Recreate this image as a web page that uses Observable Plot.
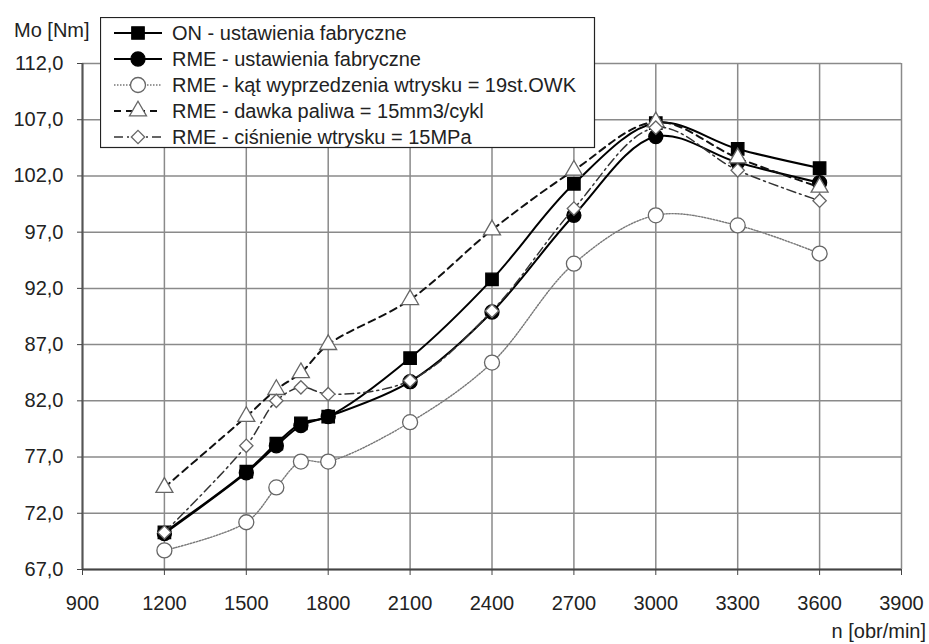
<!DOCTYPE html>
<html>
<head>
<meta charset="utf-8">
<script src="https://cdn.jsdelivr.net/npm/d3@7"></script>
<script src="https://cdn.jsdelivr.net/npm/@observablehq/plot@0.6"></script>
<style>
  html, body { margin: 0; padding: 0; background: #fff; }
  #wrap { position: relative; width: 929px; height: 644px; font-family: "Liberation Sans", Arial, sans-serif; color: #222; }
  #wrap > svg { position: absolute; left: 0; top: 0; }
  .lbl { position: absolute; font-size: 20px; line-height: 20px; white-space: nowrap; color: #222; }
</style>
</head>
<body>
<div id="wrap"></div>
<script>
// ---- data ----
const rpm = [1200, 1500, 1610, 1700, 1800, 2100, 2400, 2700, 3000, 3300, 3600];
const onFactory   = [70.3, 75.7, 78.2, 80.0, 80.6, 85.8, 92.8, 101.3, 106.7, 104.4, 102.7];
const rmeFactory  = [70.2, 75.6, 78.0, 79.8, 80.6, 83.7, 89.9, 98.5, 105.5, 103.2, 101.4];
const rmeAngle    = [68.7, 71.2, 74.3, 76.6, 76.6, 80.1, 85.4, 94.2, 98.5, 97.6, 95.1];
const rmeDose     = [74.3, 80.6, 83.0, 84.5, 87.0, 91.0, 97.2, 102.5, 106.8, 103.6, 101.0];
const rmePressure = [70.3, 78.0, 82.0, 83.2, 82.6, 83.8, 90.0, 99.1, 106.3, 102.5, 99.8];
const seriesNames = [
  "ON - ustawienia fabryczne",
  "RME - ustawienia fabryczne",
  "RME - kąt wyprzedzenia wtrysku = 19st.OWK",
  "RME - dawka paliwa = 15mm3/cykl",
  "RME - ciśnienie wtrysku = 15MPa"
];
const xTicks = [900, 1200, 1500, 1800, 2100, 2400, 2700, 3000, 3300, 3600, 3900];
const yTicks = [67, 72, 77, 82, 87, 92, 97, 102, 107, 112];
const yAxisTitle = "Mo [Nm]";
const xAxisTitle = "n [obr/min]";

// ---- styles per series ----
const styles = [
  {values: onFactory,   stroke: "#000", width: 2,   dash: null,        symbol: "square",   fill: "#000", mstroke: "#000", r: 7},
  {values: rmeFactory,  stroke: "#000", width: 2,   dash: null,        symbol: "circle",   fill: "#000", mstroke: "#000", r: 7},
  {values: rmeAngle,    stroke: "#777", width: 1.4, dash: "1.5,1.5",   symbol: "circle",   fill: "#fff", mstroke: "#666", r: 7.5},
  {values: rmeDose,     stroke: "#111", width: 2,   dash: "7,5",       symbol: "triangle", fill: "#fff", mstroke: "#666", r: 6.3},
  {values: rmePressure, stroke: "#333", width: 1.5, dash: "9,4,2,4",   symbol: "diamond2", fill: "#fff", mstroke: "#666", r: 6}
];

const tables = styles.map((s, i) => rpm.map((x, j) => ({x, y: s.values[j], name: seriesNames[i]})));

const marks = [
  Plot.gridX(xTicks, {stroke: "#8a8a8a", strokeOpacity: 1, strokeWidth: 1.5}),
  Plot.gridY(yTicks, {stroke: "#8a8a8a", strokeOpacity: 1, strokeWidth: 1.5}),
  Plot.ruleX([900], {stroke: "#555", strokeWidth: 2}),
  Plot.ruleY([67], {stroke: "#444", strokeWidth: 2}),
  Plot.axisX({ticks: xTicks, tickSize: 6, tickPadding: 20, tickFormat: d => String(d), stroke: "#444", label: null}),
  Plot.axisY({ticks: yTicks, tickSize: 5, tickPadding: 14, tickFormat: d => d.toFixed(1).replace(".", ","), stroke: "#444", label: null})
];
styles.forEach((s, i) => {
  marks.push(Plot.line(tables[i], {x: "x", y: "y", curve: "catmull-rom", stroke: s.stroke, strokeWidth: s.width, strokeDasharray: s.dash || undefined}));
  marks.push(Plot.dot(tables[i], {x: "x", y: "y", symbol: () => s.symbol, r: s.r, fill: s.fill, stroke: s.mstroke, strokeWidth: 1.3}));
});

const chart = Plot.plot({
  width: 929, height: 644,
  marginLeft: 82, marginRight: 28, marginTop: 63, marginBottom: 75,
  style: {fontFamily: "'Liberation Sans', Arial, sans-serif", fontSize: "20px", color: "#222", background: "#fff", overflow: "visible"},
  x: {domain: [900, 3900]},
  y: {domain: [67, 112]},
  marks
});
const wrap = document.getElementById("wrap");
wrap.appendChild(chart);

// axis titles
const yt = document.createElement("div");
yt.className = "lbl"; yt.textContent = yAxisTitle;
yt.style.left = "14px"; yt.style.top = "20px";
wrap.appendChild(yt);
const xt = document.createElement("div");
xt.className = "lbl"; xt.textContent = xAxisTitle;
xt.style.right = "3px"; xt.style.top = "621px";
wrap.appendChild(xt);

// legend
const symMap = {square: d3.symbolSquare, circle: d3.symbolCircle, triangle: d3.symbolTriangle, diamond2: d3.symbolDiamond2};
const L = d3.select(wrap).append("svg")
  .attr("width", 496).attr("height", 132)
  .style("left", "100px").style("top", "17px").style("position", "absolute");
L.append("rect").attr("x", 0.5).attr("y", 0.5).attr("width", 494).attr("height", 130)
  .attr("fill", "#fff").attr("stroke", "#222").attr("stroke-width", 1.2);
styles.forEach((s, i) => {
  const cy = 16 + 26 * i;
  L.append("line").attr("x1", 14).attr("x2", 62).attr("y1", cy).attr("y2", cy)
    .attr("stroke", s.stroke).attr("stroke-width", s.width).attr("stroke-dasharray", s.dash || null);
  L.append("path").attr("transform", `translate(38,${cy})`)
    .attr("d", d3.symbol(symMap[s.symbol], Math.PI * s.r * s.r)())
    .attr("fill", s.fill).attr("stroke", s.mstroke).attr("stroke-width", 1.3);
  L.append("text").attr("x", 72).attr("y", cy).attr("dy", "0.36em")
    .attr("font-family", "'Liberation Sans', Arial, sans-serif").attr("font-size", 20).attr("fill", "#222")
    .text(seriesNames[i]);
});
</script>
</body>
</html>
